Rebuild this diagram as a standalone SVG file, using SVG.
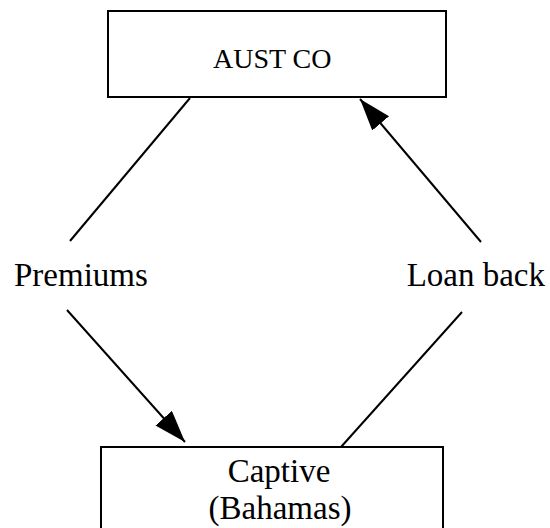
<svg xmlns="http://www.w3.org/2000/svg" width="550" height="528" viewBox="0 0 550 528">
  <style>
    .box { fill: #ffffff; stroke: #000000; stroke-width: 2; }
    .edge { stroke: #000000; stroke-width: 2; fill: none; }
    .lbl { font-family: "Liberation Serif", "Times New Roman", serif; fill: #000000; }
  </style>
  <defs>
    <marker id="arrow" markerUnits="userSpaceOnUse" markerWidth="34" markerHeight="24" refX="32" refY="11" orient="auto">
      <path d="M0,0 L32,11 L0,22 z" fill="#000000"/>
    </marker>
  </defs>
  <rect width="550" height="528" fill="#ffffff"/>

  <g id="aust-co">
    <rect class="box" x="108" y="11" width="338" height="86"/>
    <text class="lbl" x="213" y="68" font-size="28">AUST CO</text>
  </g>

  <g id="captive">
    <rect class="box" x="101" y="447" width="342" height="100"/>
    <text class="lbl" x="279" y="482" font-size="33" text-anchor="middle">Captive</text>
    <text class="lbl" x="280" y="519" font-size="33" text-anchor="middle">(Bahamas)</text>
  </g>

  <g id="premiums-label">
    <text class="lbl" x="14" y="286" font-size="33">Premiums</text>
  </g>

  <g id="loan-back-label">
    <text class="lbl" x="545" y="286" font-size="33" text-anchor="end">Loan back</text>
  </g>

  <g id="connectors">
    <line class="edge" x1="190" y1="98" x2="70" y2="241"/>
    <line class="edge" x1="67" y1="310" x2="185" y2="442" marker-end="url(#arrow)"/>
    <line class="edge" x1="481" y1="242" x2="360" y2="99" marker-end="url(#arrow)"/>
    <line class="edge" x1="462" y1="312" x2="341" y2="447"/>
  </g>
</svg>
